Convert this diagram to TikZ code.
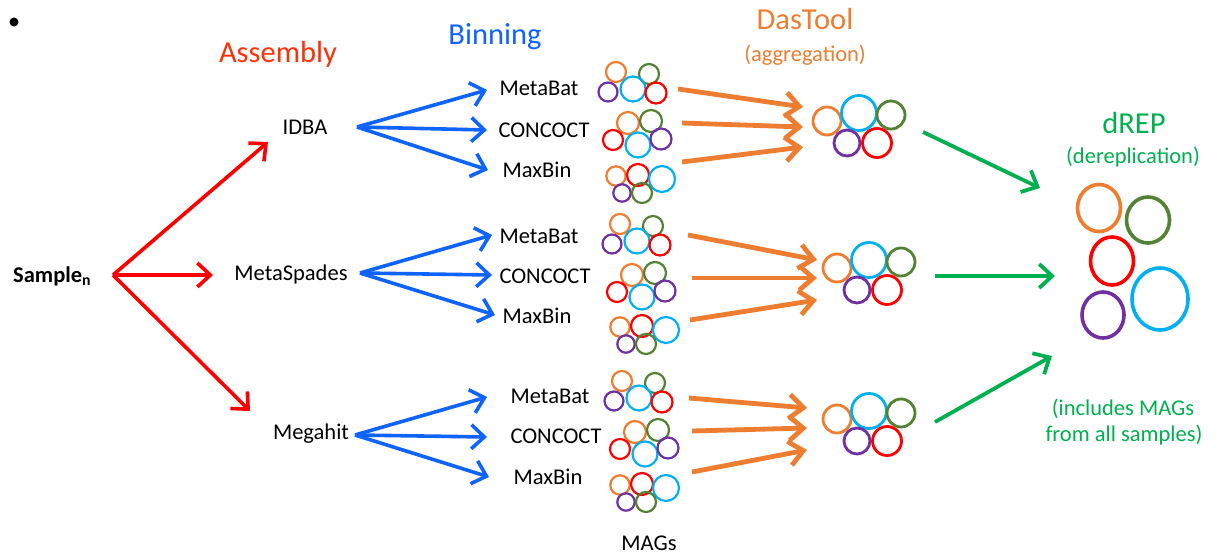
\documentclass[tikz,border=0pt]{standalone}
\usepackage{fontspec}
\setmainfont{Carlito}
\usetikzlibrary{arrows.meta}
\definecolor{hdrred}{RGB}{250,50,10}
\definecolor{arred}{RGB}{255,0,0}
\definecolor{arblue}{RGB}{15,100,255}
\definecolor{arorange}{RGB}{237,125,49}
\definecolor{argreen}{RGB}{0,176,80}
\definecolor{corange}{RGB}{237,125,49}
\definecolor{cgreen}{RGB}{84,130,53}
\definecolor{cpurple}{RGB}{112,48,160}
\definecolor{ccyan}{RGB}{0,176,240}
\definecolor{cred}{RGB}{255,0,0}
\tikzset{
  lbl/.style={anchor=base,inner sep=0pt,font=\fontsize{22.5}{27}\selectfont},
  hdr/.style={anchor=base,inner sep=0pt,font=\fontsize{30.5}{36}\selectfont},
  redarr/.style={draw=arred,line width=3.6pt,-{Straight Barb[length=13pt,width=24pt]}},
  bluearr/.style={draw=arblue,line width=3.6pt,-{Straight Barb[length=13pt,width=24pt]}},
  orarr/.style={draw=arorange,line width=4.8pt,-{Straight Barb[length=14pt,width=24pt]}},
  grarr/.style={draw=argreen,line width=3.8pt,-{Straight Barb[length=13pt,width=24pt]}},
  mag/.style={line width=2.2pt},
  agg/.style={line width=2.8pt},
  drep/.style={line width=3.6pt},
  clusterA/.pic={
    \draw[mag,corange] (616,72) circle[radius=10pt];
    \draw[mag,cgreen] (649,74) circle[radius=10pt];
    \draw[mag,cpurple] (608,92) circle[radius=9.5pt];
    \draw[mag,ccyan] (633,89) circle[radius=12.5pt];
    \draw[mag,cred] (656,93) circle[radius=10.5pt];
  },
  clusterB/.pic={
    \draw[mag,corange] (628,123) circle[radius=11pt];
    \draw[mag,cgreen] (651,121) circle[radius=11pt];
    \draw[mag,cred] (613,140) circle[radius=10pt];
    \draw[mag,ccyan] (638,145) circle[radius=12.5pt];
    \draw[mag,cpurple] (661,139) circle[radius=10.5pt];
  },
  clusterC/.pic={
    \draw[mag,corange] (616,176) circle[radius=9.7pt];
    \draw[mag,cred] (638,175) circle[radius=11pt];
    \draw[mag,ccyan] (662,179) circle[radius=13pt];
    \draw[mag,cpurple] (622,193) circle[radius=8.7pt];
    \draw[mag,cgreen] (642,193) circle[radius=10pt];
  },
  clusterAgg/.pic={
    \draw[agg,corange] (827,121) circle[radius=14pt];
    \draw[agg,ccyan] (859,113) circle[radius=17.5pt];
    \draw[agg,cgreen] (891,115) circle[radius=14pt];
    \draw[agg,cpurple] (847,143) circle[radius=13pt];
    \draw[agg,cred] (877,143) circle[radius=14.5pt];
  }
}
\begin{document}
\begin{tikzpicture}[x=1pt,y=-1pt]
\useasboundingbox[fill=white] (0,0) rectangle (1217,559);
% bullet
\fill (14,22) circle[radius=4.5pt];
% headers
\node[hdr,text=hdrred] (hAsm) at (278,63) {Assembly};
\node[hdr,text=arblue] (hBin) at (495,45) {Binning};
\node[hdr,text=arorange] (hDas) at (805,30) {DasTool};
\node[lbl,text=arorange] (hAgg) at (805,62) {(aggregation)};
\node[hdr,text=argreen] (hDrep) at (1134,133) {dREP};
\node[lbl,text=argreen] (hDerep) at (1133,163) {(dereplication)};
\node[lbl,text=argreen] (nInc1) at (1123,415) {(includes MAGs};
\node[lbl,text=argreen] (nInc2) at (1124,441) {from all samples)};
\node[lbl] (nMAGs) at (649,550) {MAGs};
% samples and assemblers
\node[lbl,anchor=base west,font=\fontsize{22.5}{27}\selectfont\bfseries] (sample) at (13,282) {Sample\textsubscript{n}};
\node[lbl] (idba) at (305,135) {IDBA};
\node[lbl] (mspades) at (291,280) {MetaSpades};
\node[lbl] (mhit) at (311,439) {Megahit};
% binners
\node[lbl] (b1a) at (539,96) {MetaBat};
\node[lbl] (b1b) at (544,137) {CONCOCT};
\node[lbl] (b1c) at (537,177) {MaxBin};
\node[lbl] (b2a) at (539,243) {MetaBat};
\node[lbl] (b2b) at (545,283) {CONCOCT};
\node[lbl] (b2c) at (537,323) {MaxBin};
\node[lbl] (b3a) at (550,403) {MetaBat};
\node[lbl] (b3b) at (556,443) {CONCOCT};
\node[lbl] (b3c) at (548,484) {MaxBin};
% red arrows
\coordinate (rhub) at (113,275);
\coordinate (rt1) at (268,142);
\coordinate (rt2) at (213,275);
\coordinate (rt3) at (250,411);
\draw[redarr] (rhub) -- (rt1);
\draw[redarr] (rhub) -- (rt2);
\draw[redarr] (rhub) -- (rt3);
% blue arrows
\coordinate (bh1) at (357,127);
\coordinate (bh2) at (360,273);
\coordinate (bh3) at (355,435);
\coordinate (bt1a) at (487,90);  \coordinate (bt1b) at (487,130); \coordinate (bt1c) at (488,170);
\coordinate (bt2a) at (492,235); \coordinate (bt2b) at (492,275); \coordinate (bt2c) at (495,315);
\coordinate (bt3a) at (487,397); \coordinate (bt3b) at (487,437); \coordinate (bt3c) at (489,477);
\foreach \h/\t in {bh1/bt1a,bh1/bt1b,bh1/bt1c,bh2/bt2a,bh2/bt2b,bh2/bt2c,bh3/bt3a,bh3/bt3b,bh3/bt3c}
  \draw[bluearr] (\h) -- (\t);
% MAG clusters
\pic at (0,0) {clusterA};
\pic at (0,0) {clusterB};
\pic at (0,0) {clusterC};
\pic at (0,0) {clusterAgg};
\pic at (4,152) {clusterA};
\pic at (4,152) {clusterB};
\pic at (4,151) {clusterC};
\pic at (10,147) {clusterAgg};
\pic at (6,309) {clusterA};
\pic at (7,309) {clusterB};
\pic at (4,309) {clusterC};
\pic at (10,298) {clusterAgg};
% orange arrows
\coordinate (os1a) at (678,89);  \coordinate (oe1a) at (803,107);
\coordinate (os1b) at (682,123); \coordinate (oe1b) at (803,127);
\coordinate (os1c) at (682,162); \coordinate (oe1c) at (803,147);
\coordinate (os2a) at (688,235); \coordinate (oe2a) at (817,260);
\coordinate (os2b) at (692,278); \coordinate (oe2b) at (817,278);
\coordinate (os2c) at (690,320); \coordinate (oe2c) at (817,300);
\coordinate (os3a) at (689,398); \coordinate (oe3a) at (807,408);
\coordinate (os3b) at (692,431); \coordinate (oe3b) at (807,428);
\coordinate (os3c) at (692,472); \coordinate (oe3c) at (807,450);
\foreach \s/\e in {os1a/oe1a,os1b/oe1b,os1c/oe1c,os2a/oe2a,os2b/oe2b,os2c/oe2c,os3a/oe3a,os3b/oe3b,os3c/oe3c}
  \draw[orarr] (\s) -- (\e);
% green arrows
\coordinate (gs1) at (923,132); \coordinate (ge1) at (1040,188);
\coordinate (gs2) at (935,276); \coordinate (ge2) at (1055,276);
\coordinate (gs3) at (935,422); \coordinate (ge3) at (1052,356);
\draw[grarr] (gs1) -- (ge1);
\draw[grarr] (gs2) -- (ge2);
\draw[grarr] (gs3) -- (ge3);
% dREP set
\draw[drep,corange] (1099,208) ellipse[x radius=21.5pt,y radius=23.5pt];
\draw[drep,cgreen] (1148,220) ellipse[x radius=21.5pt,y radius=23pt];
\draw[drep,cred] (1112,261) ellipse[x radius=21.5pt,y radius=24pt];
\draw[drep,ccyan] (1160,299) ellipse[x radius=28pt,y radius=31pt];
\draw[drep,cpurple] (1103,315) ellipse[x radius=21pt,y radius=23pt];
\end{tikzpicture}
\end{document}
